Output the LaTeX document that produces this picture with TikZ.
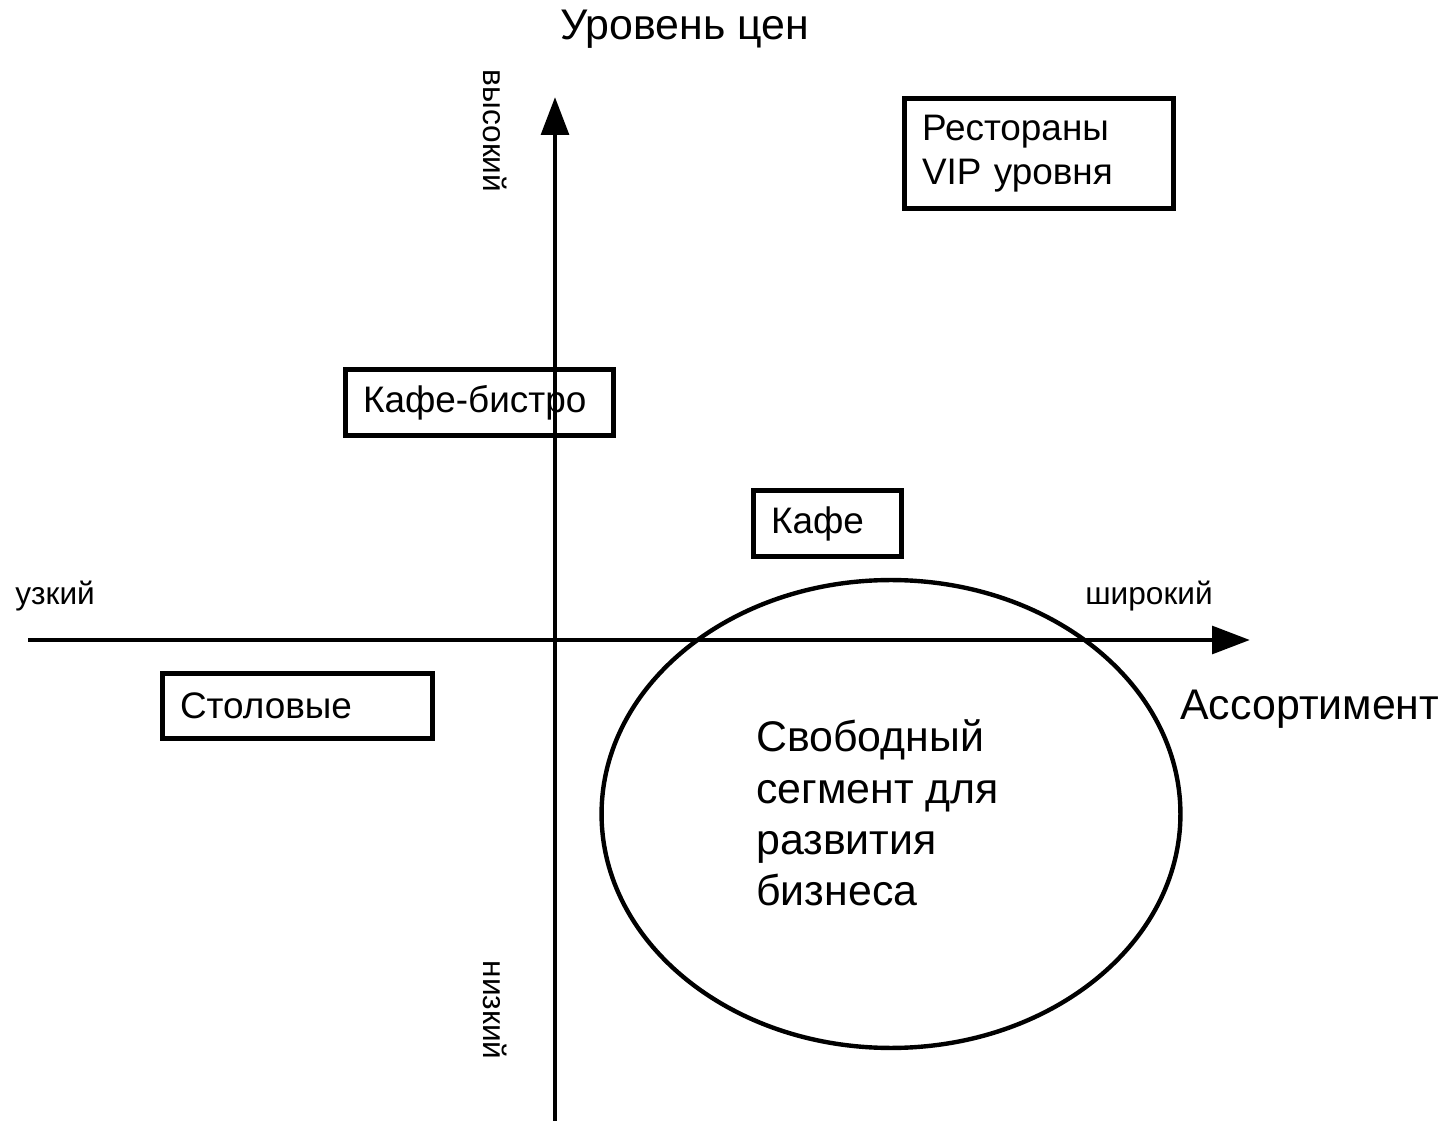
\documentclass[tikz,border=0pt]{standalone}
\usepackage{fontspec}
\setmainfont{Liberation Sans}
\usetikzlibrary{shapes.geometric,arrows.meta}

\begin{document}
	\begin{tikzpicture}[
		x=0.02cm,y=-0.02cm,
		axis/.style={line width=2.8pt,-{Triangle[length=21.5pt,width=15.5pt]}},
		box/.style={draw,line width=2.9pt,inner xsep=0.35cm,inner ysep=0pt,align=left,
			font=\fontsize{21}{25}\selectfont},
		small/.style={inner sep=0pt,font=\fontsize{18}{21}\selectfont},
		big/.style={inner sep=0pt,font=\fontsize{24.4}{29.2}\selectfont},
		]
		\useasboundingbox (0,0) rectangle (1455,1121);
		% axes
		\coordinate (YB) at (555,1121);
		\coordinate (YT) at (555,97);
		\coordinate (XL) at (28,640);
		\coordinate (XR) at (1250,640);
		\draw[axis] (YB) -- (YT);
		\draw[axis] (XL) -- (XR);
		% axis labels
		\node[big,anchor=base west] (price) at (560,40) {Уровень цен};
		\node[big,anchor=base west] (range) at (1180,720) {Ассортимент};
		\node[small,anchor=base west] (narrow) at (15,605) {узкий};
		\node[small,anchor=base west] (wide) at (1085,605) {широкий};
		\node[small,rotate=-90] (high) at (495,131) {высокий};
		\node[small,rotate=-90] (low) at (495,1010) {низкий};
		% segments
		\node[box,text width=4.68cm,minimum height=2.2cm] (VIP) at (1039,153.5) {Рестораны\\VIP уровня};
		\node[box,text width=4.66cm,minimum height=1.32cm] (BIS) at (479.5,402.5) {Кафе-бистро};
		\node[box,text width=2.26cm,minimum height=1.32cm] (CAF) at (827.5,523.5) {Кафе};
		\node[box,text width=4.7cm,minimum height=1.3cm] (STO) at (297.5,706) {Столовые};
		% free segment
		\node[ellipse,draw,line width=2.5pt,minimum width=11.58cm,minimum height=9.36cm] (FREE) at (891,814) {};
		\node[big,anchor=west,align=left] (FREEtxt) at (756,813) {Свободный\\сегмент для\\развития\\бизнеса};
	\end{tikzpicture}
\end{document}
